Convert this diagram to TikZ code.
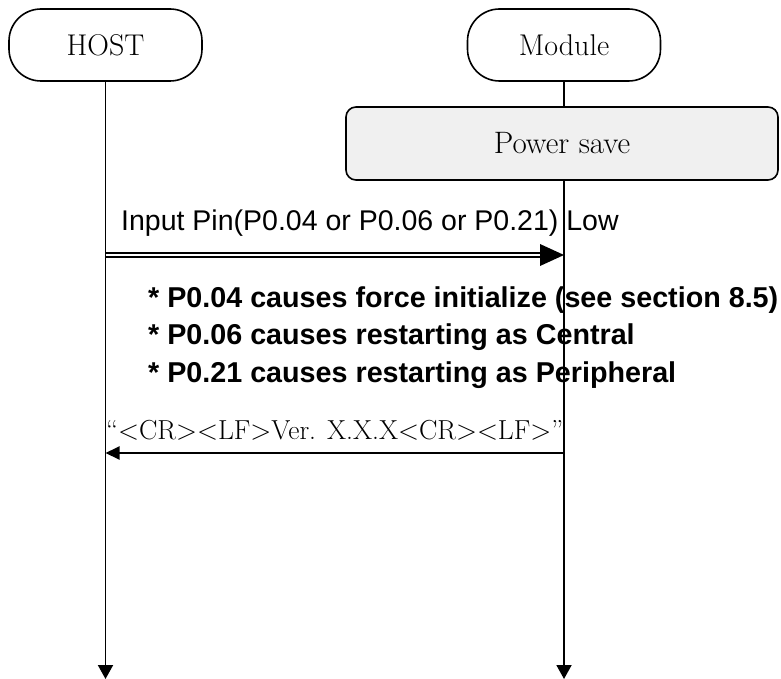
\documentclass[tikz,border=0pt]{standalone}
\usepackage{fontspec}
\newfontfamily\arialfont{Liberation Sans}
\usetikzlibrary{arrows.meta}
\definecolor{boxgray}{RGB}{240,240,240}
\begin{document}
\begin{tikzpicture}[x=1pt,y=-1pt,
  actor/.style={draw,line width=1.6pt,rounded corners=32pt,minimum width=193pt,minimum height=72pt,font=\fontsize{30}{34}\selectfont,inner sep=0pt},
  statebox/.style={draw,line width=1.6pt,fill=boxgray,rounded corners=10pt,minimum width=432pt,minimum height=73pt,font=\fontsize{31}{35}\selectfont,inner sep=0pt},
  life/.style={line width=1.9pt,-{Triangle[length=14pt,width=15pt]}},
  msgtext/.style={font=\arialfont\fontsize{28.5}{32}\selectfont,anchor=base west,inner sep=0pt},
  notetext/.style={font=\arialfont\bfseries\fontsize{28.7}{32}\selectfont,anchor=base west,inner sep=0pt},
  vertext/.style={font=\fontsize{27.5}{31}\selectfont,anchor=base west,inner sep=0pt}]
\useasboundingbox (0,0) rectangle (781,679);
\node[actor] (host) at (105.5,45) {HOST};
\node[actor] (mod) at (564,45) {Module};
\coordinate (hend) at (105.5,679);
\coordinate (mend) at (564,679);
\draw[life] (host.south) -- (hend);
\draw[life] (mod.south) -- (mend);
\node[statebox] (ps) at (562,143.5) {Power save};
% input pin message
\node[msgtext] (inp) at (121,230) {Input Pin(P0.04 or P0.06 or P0.21) Low};
\coordinate (a1) at (105.5,255);
\coordinate (a2) at (564,255);
\coordinate (a2s) at (542,255);
\draw[double,double distance=2.8pt,line width=1.5pt] (a1) -- (a2s);
\fill (a2) -- ++(-24,-11) -- ++(0,22) -- cycle;
% notes
\node[notetext] (n1) at (148,307) {* P0.04 causes force initialize (see section 8.5)};
\node[notetext] (n2) at (148,344) {* P0.06 causes restarting as Central};
\node[notetext] (n3) at (148,382) {* P0.21 causes restarting as Peripheral};
% version message
\node[vertext] (ver) at (106,439) {“<CR><LF>Ver. X.X.X<CR><LF>”};
\coordinate (b1) at (564,453);
\coordinate (b2) at (105.5,453);
\draw[line width=1.9pt,-{Triangle[length=14pt,width=13pt]}] (b1) -- (b2);
\end{tikzpicture}
\end{document}
